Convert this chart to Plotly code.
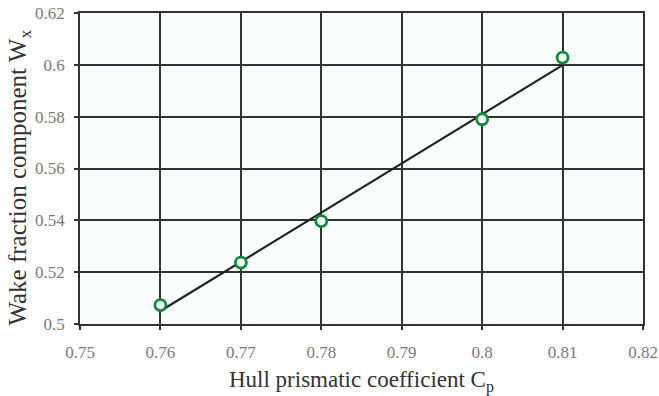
import plotly.graph_objects as go

# Data
cp = [0.76, 0.77, 0.78, 0.80, 0.81]
wx = [0.5073, 0.5237, 0.5397, 0.5790, 0.6028]

# Fitted line endpoints
fit_cp = [0.76, 0.81]
fit_wx = [0.5050, 0.5999]

x_ticks = [0.75, 0.76, 0.77, 0.78, 0.79, 0.80, 0.81, 0.82]
x_tick_labels = ["0.75", "0.76", "0.77", "0.78", "0.79", "0.8", "0.81", "0.82"]
y_ticks = [0.50, 0.52, 0.54, 0.56, 0.58, 0.60, 0.62]
y_tick_labels = ["0.5", "0.52", "0.54", "0.56", "0.58", "0.6", "0.62"]

x_title = "Hull prismatic coefficient C<sub>p</sub>"
y_title = "Wake fraction component W<sub>x</sub>"

SERIF = "Liberation Serif, Times New Roman, serif"

fig = go.Figure()
fig.add_trace(go.Scatter(x=fit_cp, y=fit_wx, mode="lines",
                         line=dict(color="#222222", width=2.2),
                         showlegend=False, hoverinfo="skip"))
fig.add_trace(go.Scatter(x=cp, y=wx, mode="markers",
                         marker=dict(symbol="circle", size=11, color="white",
                                     line=dict(color="#0a8a3a", width=2.8)),
                         showlegend=False))

axis_common = dict(showgrid=True, gridcolor="#333333", gridwidth=1.5,
                   showline=True, linecolor="#333333", linewidth=1.5, mirror=True,
                   ticks="outside", ticklen=4, tickcolor="#333333", tickwidth=1.5,
                   zeroline=False, automargin=False,
                   tickfont=dict(family=SERIF, size=17, color="#7a7a7a"))

fig.update_xaxes(range=[0.75, 0.82], tickvals=x_ticks, ticktext=x_tick_labels,
                 ticklabelstandoff=8,
                 title=dict(text=x_title,
                            font=dict(family=SERIF, size=23, color="#333333")),
                 **axis_common)
fig.update_yaxes(range=[0.50, 0.62], tickvals=y_ticks, ticktext=y_tick_labels,
                 ticklabelstandoff=6, **axis_common)

fig.add_annotation(text=y_title, textangle=-90, showarrow=False,
                   xref="paper", yref="paper", x=-0.107, y=0.47,
                   xanchor="center", yanchor="middle",
                   font=dict(family=SERIF, size=25, color="#333333"))

fig.update_layout(width=659, height=396,
                  margin=dict(l=80, r=16, t=13, b=72),
                  paper_bgcolor="white", plot_bgcolor="#fbfdfd")

fig.write_html("out.html", config={"displayModeBar": False},
               post_script="document.body.style.margin='0px';")
